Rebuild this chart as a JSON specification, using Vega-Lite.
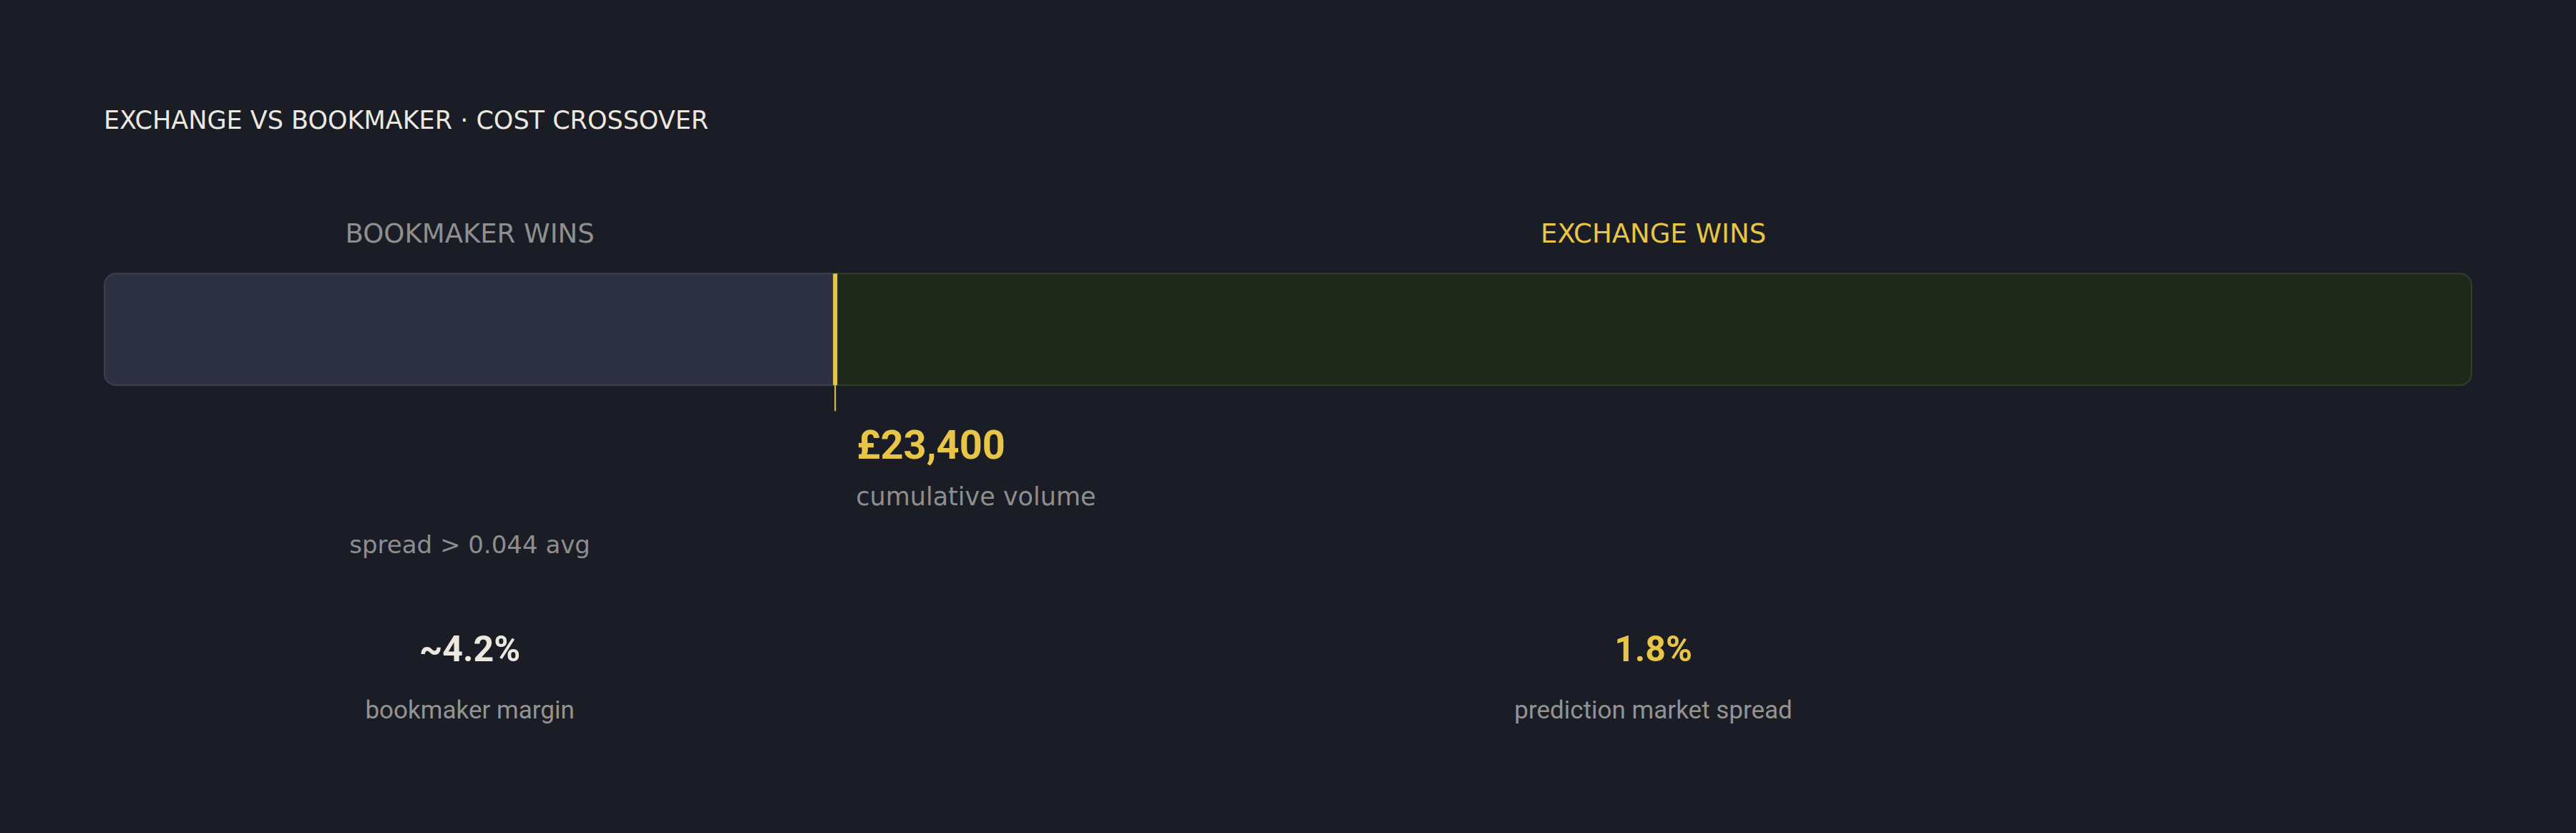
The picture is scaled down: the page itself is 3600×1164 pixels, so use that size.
{
  "$schema": "https://vega.github.io/schema/vega-lite/v6.json",
  "width": 3600,
  "height": 1164,
  "autosize": {"type": "fit", "contains": "padding"},
  "padding": {"left": 145, "right": 145, "top": 152, "bottom": 0},
  "background": "#1a1d26",
  "title": {
    "text": "EXCHANGE VS BOOKMAKER · COST CROSSOVER",
    "anchor": "start",
    "font": "DejaVu Sans",
    "fontSize": 35,
    "fontWeight": 400,
    "color": "#ece8df",
    "offset": 109
  },
  "datasets": {
    "segments": [
      {"segment": "bookmaker", "start": 0, "end": 23400, "header": "BOOKMAKER WINS", "condition": "spread > 0.044 avg", "stat": "~4.2%", "statLabel": "bookmaker margin"},
      {"segment": "exchange", "start": 23400, "end": 75800, "header": "EXCHANGE WINS", "condition": null, "stat": "1.8%", "statLabel": "prediction market spread"}
    ],
    "crossover": [
      {"volume": 23400, "label": "£23,400", "caption": "cumulative volume"}
    ]
  },
  "layer": [
    {
      "data": {"name": "segments"},
      "transform": [{"filter": "datum.segment === 'bookmaker'"}],
      "mark": {"type": "bar", "fill": "#2e3142", "stroke": "#3c3f54", "strokeWidth": 2, "cornerRadiusTopLeft": 16, "cornerRadiusBottomLeft": 16},
      "encoding": {
        "x": {"field": "start", "type": "quantitative", "scale": {"domain": [0, 75800], "nice": false, "zero": true}},
        "x2": {"field": "end"},
        "y": {"datum": 9.95, "type": "quantitative", "scale": {"domain": [0, 100], "reverse": true, "nice": false, "zero": true}},
        "y2": {"datum": 27.9}
      }
    },
    {
      "data": {"name": "segments"},
      "transform": [{"filter": "datum.segment === 'exchange'"}],
      "mark": {"type": "bar", "fill": "#202a1c", "stroke": "#2f4024", "strokeWidth": 2, "cornerRadiusTopRight": 16, "cornerRadiusBottomRight": 16},
      "encoding": {
        "x": {"field": "start", "type": "quantitative"},
        "x2": {"field": "end"},
        "y": {"datum": 9.95, "type": "quantitative"},
        "y2": {"datum": 27.9}
      }
    },
    {
      "data": {"name": "crossover"},
      "mark": {"type": "rule", "color": "#e8c547", "strokeWidth": 6},
      "encoding": {
        "x": {"field": "volume", "type": "quantitative"},
        "y": {"datum": 9.95, "type": "quantitative"},
        "y2": {"datum": 27.9}
      }
    },
    {
      "data": {"name": "crossover"},
      "mark": {"type": "rule", "color": "#e8c547", "strokeWidth": 2},
      "encoding": {
        "x": {"field": "volume", "type": "quantitative"},
        "y": {"datum": 27.9, "type": "quantitative"},
        "y2": {"datum": 32.06}
      }
    },
    {
      "data": {"name": "crossover"},
      "mark": {"type": "text", "font": "Roboto", "fontSize": 56, "fontWeight": 700, "color": "#e8c547", "align": "left", "baseline": "alphabetic", "dx": 30},
      "encoding": {
        "x": {"field": "volume", "type": "quantitative"},
        "y": {"datum": 39.8, "type": "quantitative"},
        "text": {"field": "label"}
      }
    },
    {
      "data": {"name": "crossover"},
      "mark": {"type": "text", "font": "DejaVu Sans", "fontSize": 35, "color": "#8e8e8e", "align": "left", "baseline": "alphabetic", "dx": 29},
      "encoding": {
        "x": {"field": "volume", "type": "quantitative"},
        "y": {"datum": 47.2, "type": "quantitative"},
        "text": {"field": "caption"}
      }
    },
    {
      "data": {"name": "segments"},
      "transform": [
        {"fold": ["start", "end"], "as": ["edge", "vol"]},
        {"aggregate": [{"op": "mean", "field": "vol", "as": "mid"}], "groupby": ["segment", "header", "condition", "stat", "statLabel"]}
      ],
      "layer": [
        {
          "mark": {"type": "text", "font": "DejaVu Sans", "fontSize": 37, "align": "center", "baseline": "alphabetic"},
          "encoding": {
            "x": {"field": "mid", "type": "quantitative"},
            "y": {"datum": 4.9, "type": "quantitative"},
            "text": {"field": "header"},
            "color": {"field": "segment", "type": "nominal", "scale": {"domain": ["bookmaker", "exchange"], "range": ["#8f8f8f", "#e8c547"]}, "legend": null}
          }
        },
        {
          "transform": [{"filter": "datum.condition != null"}],
          "mark": {"type": "text", "font": "DejaVu Sans", "fontSize": 34, "align": "center", "baseline": "alphabetic", "color": "#8e8e8e"},
          "encoding": {
            "x": {"field": "mid", "type": "quantitative"},
            "y": {"datum": 54.96, "type": "quantitative"},
            "text": {"field": "condition"}
          }
        },
        {
          "mark": {"type": "text", "font": "Roboto", "fontSize": 50, "fontWeight": 700, "align": "center", "baseline": "alphabetic"},
          "encoding": {
            "x": {"field": "mid", "type": "quantitative"},
            "y": {"datum": 72.3, "type": "quantitative"},
            "text": {"field": "stat"},
            "color": {"field": "segment", "type": "nominal", "scale": {"domain": ["bookmaker", "exchange"], "range": ["#ece8df", "#e8c547"]}, "legend": null}
          }
        },
        {
          "mark": {"type": "text", "font": "Roboto", "fontSize": 35, "align": "center", "baseline": "alphabetic", "color": "#959390"},
          "encoding": {
            "x": {"field": "mid", "type": "quantitative"},
            "y": {"datum": 81.6, "type": "quantitative"},
            "text": {"field": "statLabel"}
          }
        }
      ],
      "resolve": {"scale": {"color": "independent"}}
    }
  ],
  "resolve": {"scale": {"color": "independent"}},
  "config": {
    "view": {"stroke": null},
    "axis": {"disable": true}
  }
}
